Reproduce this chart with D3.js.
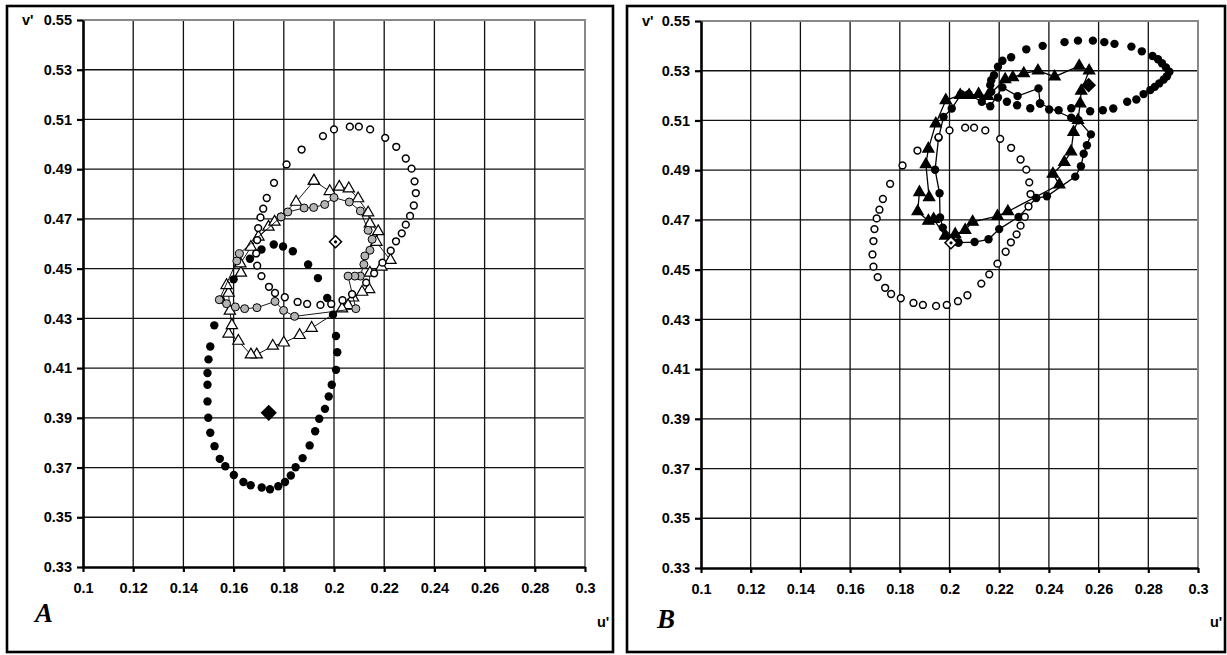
<!DOCTYPE html>
<html>
<head>
<meta charset="utf-8">
<script src="https://cdn.jsdelivr.net/npm/d3@7"></script>
<style>
  body { margin: 0; background: #fff; }
  svg text { font-family: "Liberation Sans", Arial, sans-serif; font-weight: bold; }
</style>
</head>
<body>
<svg id="chart" width="1227" height="655"></svg>
<script>
// axis ticks (same for both panels)
const uTicks = [0.1, 0.12, 0.14, 0.16, 0.18, 0.2, 0.22, 0.24, 0.26, 0.28, 0.3];
const vTicks = [0.33, 0.35, 0.37, 0.39, 0.41, 0.43, 0.45, 0.47, 0.49, 0.51, 0.53, 0.55];

// reference ellipse, open circles - drawn in A and B
const refEllipse = [
  [0.2000,0.5060],[0.2063,0.5071],[0.2099,0.5071],[0.2144,0.5060],[0.2204,0.5026],[0.2248,0.4990],
  [0.2286,0.4943],[0.2309,0.4902],[0.2321,0.4851],[0.2326,0.4804],[0.2318,0.4754],[0.2303,0.4712],
  [0.2286,0.4677],[0.2270,0.4642],[0.2247,0.4610],[0.2226,0.4572],[0.2193,0.4524],[0.2160,0.4481],
  [0.2128,0.4444],[0.2072,0.4397],[0.2034,0.4373],[0.1989,0.4358],[0.1946,0.4354],[0.1893,0.4358],
  [0.1855,0.4366],[0.1804,0.4385],[0.1765,0.4402],[0.1741,0.4427],[0.1711,0.4470],[0.1694,0.4512],
  [0.1690,0.4561],[0.1694,0.4615],[0.1698,0.4663],[0.1707,0.4706],[0.1718,0.4741],[0.1732,0.4784],
  [0.1761,0.4845],[0.1811,0.4919],[0.1871,0.4979],[0.1956,0.5033]
];
// white point (open diamond) - both panels
const whitePoint = [[0.2006, 0.4608]];

// panel A
const aBlackLoop = [
  [0.1499,0.3900],[0.1496,0.3966],[0.1496,0.4033],[0.1496,0.4080],[0.1500,0.4135],[0.1507,0.4187],
  [0.1523,0.4272],[0.1549,0.4375],[0.1600,0.4457],[0.1665,0.4540],[0.1711,0.4577],[0.1760,0.4597],
  [0.1797,0.4589],[0.1836,0.4570],[0.1897,0.4517],[0.1936,0.4462],[0.1973,0.4382],[0.1996,0.4315],
  [0.2008,0.4229],[0.2013,0.4164],[0.2008,0.4093],[0.1991,0.4033],[0.1979,0.3986],[0.1964,0.3936],
  [0.1941,0.3896],[0.1925,0.3846],[0.1903,0.3789],[0.1875,0.3738],[0.1847,0.3701],[0.1828,0.3668],
  [0.1805,0.3642],[0.1778,0.3625],[0.1745,0.3613],[0.1712,0.3620],[0.1668,0.3629],[0.1639,0.3642],
  [0.1601,0.3670],[0.1567,0.3705],[0.1545,0.3735],[0.1524,0.3786],[0.1507,0.3840]
];
const aTriangles = [
  [0.1920,0.4853],[0.1983,0.4811],[0.2021,0.4829],[0.2059,0.4822],[0.2096,0.4782],[0.2136,0.4725],
  [0.2143,0.4681],[0.2176,0.4650],[0.2169,0.4607],[0.2225,0.4534],[0.2189,0.4507],[0.2143,0.4483],
  [0.2140,0.4417],[0.2112,0.4406],[0.2076,0.4383],[0.2056,0.4352],[0.2032,0.4339],[0.1911,0.4261],
  [0.1863,0.4232],[0.1800,0.4202],[0.1756,0.4189],[0.1692,0.4154],[0.1669,0.4154],[0.1619,0.4209],
  [0.1580,0.4238],[0.1593,0.4272],[0.1585,0.4330],[0.1580,0.4402],[0.1572,0.4433],[0.1629,0.4483],
  [0.1627,0.4520],[0.1669,0.4587],[0.1699,0.4628],[0.1739,0.4668],[0.1763,0.4688],[0.1849,0.4768],
  [0.1920,0.4853]
];
const aGray = [
  [0.1789,0.4708],[0.1816,0.4728],[0.1881,0.4744],[0.1919,0.4746],[0.1963,0.4758],[0.2000,0.4786],
  [0.2061,0.4768],[0.2105,0.4732],[0.2136,0.4654],[0.2152,0.4618],[0.2143,0.4574],[0.2123,0.4551],
  [0.2119,0.4517],[0.2105,0.4470],[0.2083,0.4470],[0.2056,0.4470],[0.2087,0.4339],[0.1843,0.4308],
  [0.1799,0.4332],[0.1765,0.4368],[0.1693,0.4343],[0.1644,0.4339],[0.1607,0.4346],[0.1572,0.4359],
  [0.1543,0.4375],[0.1613,0.4531],[0.1623,0.4560],[0.1789,0.4708]
];
const aDiamond = [[0.1740, 0.3920]];

// panel B
const bBigLoop = [
  [0.2179,0.5282],[0.2195,0.5316],[0.2213,0.5340],[0.2248,0.5354],[0.2309,0.5386],[0.2375,0.5400],
  [0.2463,0.5415],[0.2517,0.5421],[0.2577,0.5421],[0.2623,0.5415],[0.2664,0.5408],[0.2732,0.5397],
  [0.2774,0.5378],[0.2817,0.5359],[0.2839,0.5346],[0.2855,0.5330],[0.2871,0.5313],[0.2885,0.5296],
  [0.2875,0.5278],[0.2862,0.5265],[0.2844,0.5249],[0.2826,0.5235],[0.2808,0.5222],[0.2781,0.5206],
  [0.2752,0.5184],[0.2715,0.5175],[0.2659,0.5148],[0.2617,0.5141],[0.2566,0.5137],[0.2490,0.5149],
  [0.2439,0.5141],[0.2401,0.5144],[0.2364,0.5168],[0.2325,0.5149],[0.2272,0.5161],[0.2231,0.5175],
  [0.2195,0.5192],[0.2168,0.5215],[0.2164,0.5242],[0.2168,0.5262]
];
const bTriangles = [
  [0.1983,0.4636],[0.1936,0.4703],[0.1915,0.4696],[0.1872,0.4734],[0.1879,0.4811],[0.1918,0.4791],
  [0.1905,0.4923],[0.1915,0.4986],[0.1945,0.5087],[0.1985,0.5181],[0.2043,0.5202],[0.2079,0.5202],
  [0.2117,0.5206],[0.2154,0.5198],[0.2224,0.5265],[0.2255,0.5273],[0.2299,0.5289],[0.2356,0.5300],
  [0.2423,0.5276],[0.2522,0.5319],[0.2562,0.5300],[0.2530,0.5219],[0.2526,0.5168],[0.2517,0.5101],
  [0.2499,0.5053],[0.2489,0.4975],[0.2462,0.4932],[0.2416,0.4885],[0.2442,0.4842],[0.2235,0.4734],
  [0.2193,0.4715],[0.2093,0.4692],[0.2063,0.4659],[0.2023,0.4642]
];
const bCircles = [
  [0.2036,0.4609],[0.1973,0.4669],[0.1962,0.4710],[0.1960,0.4807],[0.1942,0.4902],[0.1956,0.5030],
  [0.1976,0.5114],[0.2009,0.5148],[0.2047,0.5206],[0.2077,0.5206],[0.2130,0.5175],[0.2164,0.5157],
  [0.2213,0.5233],[0.2274,0.5198],[0.2358,0.5229],[0.2365,0.5168],[0.2490,0.5111],[0.2519,0.5101],
  [0.2569,0.5044],[0.2553,0.5000],[0.2540,0.4966],[0.2529,0.4916],[0.2506,0.4874],[0.2392,0.4795],
  [0.2349,0.4788],[0.2278,0.4712],[0.2200,0.4663],[0.2157,0.4622],[0.2101,0.4611],[0.2036,0.4609]
];
const bDiamond = [[0.2560, 0.5242]];

const svg = d3.select('#chart');
const fmt = d => String(+d.toFixed(2));

function drawPanel(p) {
  let g = svg.append('g'),
      x = d3.scaleLinear().domain([0.1, 0.3]).range([p.x0, p.x1]),
      y = d3.scaleLinear().domain([0.33, 0.55]).range([p.y0, p.y1]);

  // outer frame
  g.append('rect')
    .attr('x', p.bx).attr('y', p.by).attr('width', p.bw).attr('height', p.bh)
    .attr('fill', 'none').attr('stroke', '#000').attr('stroke-width', 2.6);

  // grid
  g.selectAll('.vg').data(uTicks.slice(1, -1)).enter().append('line')
    .attr('x1', d => x(d)).attr('x2', d => x(d)).attr('y1', y(0.33)).attr('y2', y(0.55))
    .attr('stroke', '#111').attr('stroke-width', 1.3);
  g.selectAll('.hg').data(vTicks.slice(1, -1)).enter().append('line')
    .attr('y1', d => y(d)).attr('y2', d => y(d)).attr('x1', x(0.1)).attr('x2', x(0.3))
    .attr('stroke', '#111').attr('stroke-width', 1.3);
  // plot area border top/right (grey)
  g.append('path')
    .attr('d', `M${x(0.1)},${y(0.55)}H${x(0.3)}V${y(0.33)}`)
    .attr('fill', 'none').attr('stroke', '#888').attr('stroke-width', 2);

  // axes
  let ax = g.append('g').attr('transform', `translate(0,${y(0.33)})`)
    .call(d3.axisBottom(x).tickValues(uTicks).tickFormat(fmt).tickSize(5).tickSizeOuter(0).tickPadding(11));
  let ay = g.append('g').attr('transform', `translate(${x(0.1)},0)`)
    .call(d3.axisLeft(y).tickValues(vTicks).tickFormat(fmt).tickSize(6).tickSizeOuter(0).tickPadding(5));
  [ax, ay].forEach(a => {
    a.attr('font-family', null).attr('font-size', null);
    a.select('.domain').attr('stroke', '#000').attr('stroke-width', 2.6);
    a.selectAll('.tick line').attr('stroke', '#000').attr('stroke-width', 2.2);
    a.selectAll('.tick text').attr('fill', '#000')
      .style('font-size', '14.5px').style('font-family', '"Liberation Sans", Arial, sans-serif').style('font-weight', 'bold');
  });

  // axis titles and panel letter
  g.append('text').attr('x', p.vx).attr('y', y(0.55) + 5).style('font-size', '14.5px').text("v'");
  g.append('text').attr('x', p.ux).attr('y', 627).style('font-size', '14.5px').text("u'");
  g.append('text').attr('x', p.lx).attr('y', p.ly)
    .style('font-family', '"Liberation Serif", "Times New Roman", serif')
    .style('font-style', 'italic').style('font-weight', 'bold').style('font-size', '27px')
    .text(p.letter);

  let line = d3.line().x(d => x(d[0])).y(d => y(d[1]));
  let tri = d3.symbol().type(d3.symbolTriangle).size(p.triSize);
  let sq = s => d3.symbol().type(d3.symbolSquare).size(s);

  p.series.forEach(s => {
    if (s.line) g.append('path').datum(s.data).attr('d', line)
      .attr('fill', 'none').attr('stroke', '#000').attr('stroke-width', s.lw || 1);
    let sel = g.append('g').selectAll('path').data(s.data).enter();
    if (s.type === 'tri') {
      sel.append('path').attr('d', tri)
        .attr('transform', d => `translate(${x(d[0])},${y(d[1])})`)
        .attr('fill', s.fill).attr('stroke', '#000').attr('stroke-width', 1.2);
    } else if (s.type === 'dia') {
      sel.append('path').attr('d', sq(s.size))
        .attr('transform', d => `translate(${x(d[0])},${y(d[1])}) rotate(45)`)
        .attr('fill', s.fill).attr('stroke', '#000').attr('stroke-width', 1.5);
      if (s.dot) sel.append('circle').attr('cx', d => x(d[0])).attr('cy', d => y(d[1]))
        .attr('r', 1.6).attr('fill', '#000');
    } else {
      sel.append('circle').attr('cx', d => x(d[0])).attr('cy', d => y(d[1]))
        .attr('r', s.r).attr('fill', s.fill).attr('stroke', '#000').attr('stroke-width', s.sw);
    }
  });
}

drawPanel({
  letter: 'A', bx: 7, by: 6, bw: 606, bh: 646,
  x0: 83, x1: 585, y0: 567, y1: 20, vx: 22, ux: 597, lx: 35, ly: 622, triSize: 55,
  series: [
    {data: aBlackLoop, type: 'circ', r: 4.2, fill: '#000', sw: 0},
    {data: aTriangles, type: 'tri', fill: '#fff', line: true, lw: 0.9},
    {data: aGray, type: 'circ', r: 4, fill: '#b4b4b4', sw: 1, line: true, lw: 0.9},
    {data: refEllipse, type: 'circ', r: 3.4, fill: '#fff', sw: 1.5},
    {data: whitePoint, type: 'dia', size: 72, fill: '#fff', dot: true},
    {data: aDiamond, type: 'dia', size: 100, fill: '#000'}
  ]
});

drawPanel({
  letter: 'B', bx: 627, by: 6, bw: 598, bh: 646,
  x0: 701, x1: 1198, y0: 568, y1: 21, vx: 642, ux: 1210, lx: 657, ly: 628, triSize: 55,
  series: [
    {data: bBigLoop, type: 'circ', r: 4.2, fill: '#000', sw: 0},
    {data: bCircles, type: 'circ', r: 4.2, fill: '#000', sw: 0, line: true, lw: 1.3},
    {data: bTriangles, type: 'tri', fill: '#000', line: true, lw: 1.3},
    {data: refEllipse, type: 'circ', r: 3.4, fill: '#fff', sw: 1.5},
    {data: whitePoint, type: 'dia', size: 72, fill: '#fff', dot: true},
    {data: bDiamond, type: 'dia', size: 80, fill: '#000'}
  ]
});
</script>
</body>
</html>
